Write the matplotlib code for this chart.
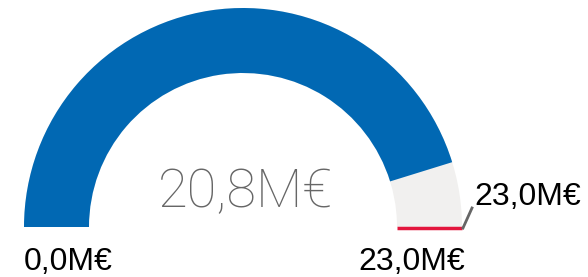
# Gauge: value vs target (M€)
import matplotlib.pyplot as plt
from matplotlib.patches import Wedge
import numpy as np

# Data
gauge_min = 0.0
gauge_max = 23.0
value = 20.8
target = 23.0

def fmt(v):
    return f"{v:.1f}".replace('.', ',') + "M€"

def angle(v):
    # 180 deg at min, 0 deg at max
    return 180 * (1 - (v - gauge_min) / (gauge_max - gauge_min))

fig = plt.figure(figsize=(5.88, 2.77), dpi=100)
ax = fig.add_axes([0, 0, 1, 1])
ax.set_xlim(0, 588)
ax.set_ylim(0, 277)
ax.axis('off')

cx, cy = 243, 50
r_out, width = 219, 65

# grey background arc, then value arc
ax.add_patch(Wedge((cx, cy), r_out, 0, 180, width=width, color='#F1F0EF', lw=0))
ax.add_patch(Wedge((cx, cy), r_out, angle(value), 180, width=width, color='#0168B3', lw=0))

# target marker (red line across the ring)
t = np.radians(angle(target))
ax.plot([cx + (r_out - width) * np.cos(t), cx + r_out * np.cos(t)],
        [cy + (r_out - width) * np.sin(t) - 1, cy + r_out * np.sin(t) - 1],
        color='#E3163D', lw=2.5, solid_capstyle='butt')

# leader line to the target label
ax.plot([cx + r_out * np.cos(t) + 1, cx + r_out * np.cos(t) + 10],
        [cy - 1, cy + 19], color='#666666', lw=2)

lab = dict(family=['Liberation Sans', 'DejaVu Sans'], fontsize=23, color='black', va='baseline')
ax.text(cx - r_out, 7, fmt(gauge_min), ha='left', **lab)
ax.text(cx + r_out + 3, 7, fmt(gauge_max), ha='right', **lab)
ax.text(cx + r_out + 12, 72, fmt(target), ha='left', **lab)

ax.text(245, 70, fmt(value), ha='center', va='baseline', fontsize=39,
        family=['Roboto', 'DejaVu Sans'], fontweight='light', color='#666666')

plt.savefig('out.png', dpi=100)
